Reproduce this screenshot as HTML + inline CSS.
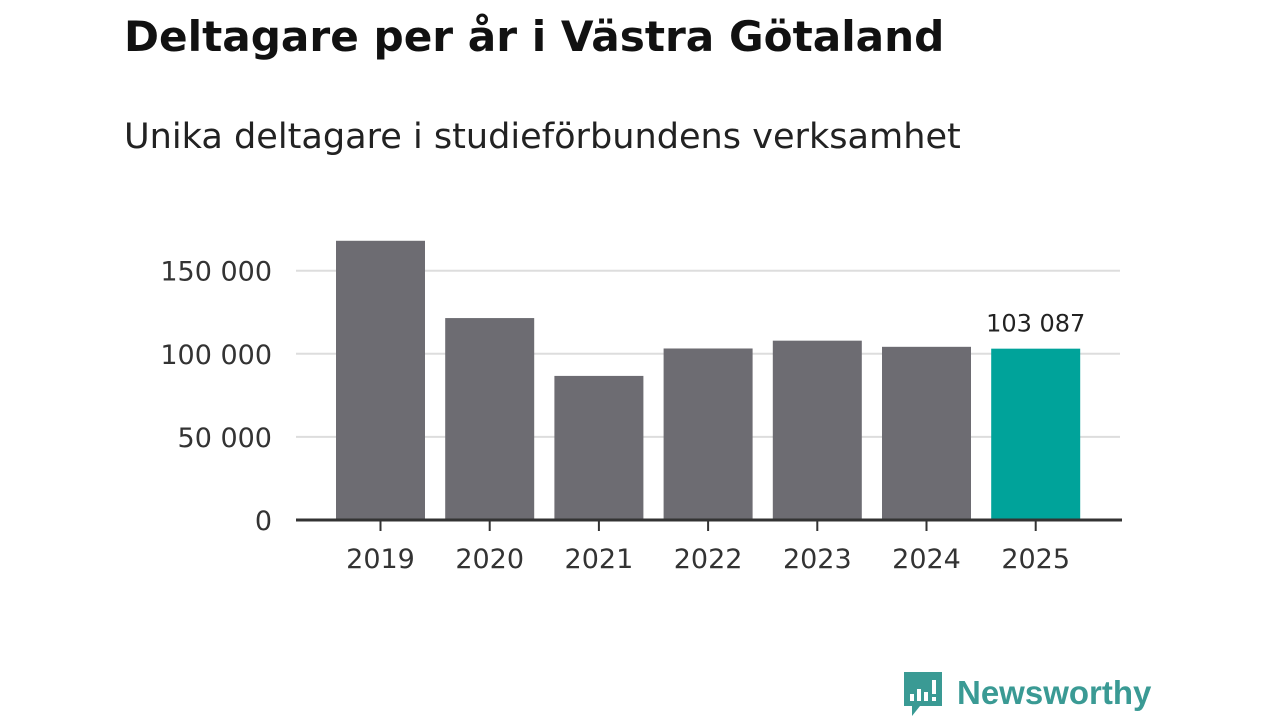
<!DOCTYPE html>
<html><head><meta charset="utf-8"><style>
body{margin:0;width:1280px;height:720px;background:#fff;overflow:hidden;font-family:"DejaVu Sans","Liberation Sans",sans-serif;}
</style></head><body>
<svg width="1280" height="720">
<text x="124" y="51" font-size="42.2" font-weight="bold" fill="#111">Deltagare per år i Västra Götaland</text>
<text x="124" y="148" font-size="35.1" fill="#222">Unika deltagare i studieförbundens verksamhet</text>
<g id="grid"></g><g id="bars"></g><g id="xaxis"></g>
<g>
<path d="M904 672 h38 v34 h-22 l-8 10 v-10 h-8 z" fill="#3a9a94"/>
<rect x="910" y="694" width="4" height="7" fill="#fff"/><rect x="917" y="689" width="4" height="12" fill="#fff"/><rect x="924" y="692" width="4" height="9" fill="#fff"/><rect x="932" y="680" width="4" height="14" fill="#fff"/><rect x="932" y="697" width="4" height="4" fill="#fff"/>
<text x="957" y="704" font-size="33" font-weight="bold" fill="#3a9a94" font-family="Liberation Sans, sans-serif">Newsworthy</text>
</g>
</svg>
<script>
const years=["2019","2020","2021","2022","2023","2024","2025"];
const values=[168000,121500,86700,103200,107900,104200,103087];
const ticks=[0,50000,100000,150000];
const tickLabels=["0","50 000","100 000","150 000"];
const ns="http://www.w3.org/2000/svg";
const y=v=>520-v*0.001662;
const x=i=>336+i*109.2;
function mk(t,a,p){const e=document.createElementNS(ns,t);for(const k in a)e.setAttribute(k,a[k]);p.appendChild(e);return e;}
const g=document.getElementById('grid'),b=document.getElementById('bars'),xa=document.getElementById('xaxis');
ticks.forEach((t,i)=>{
 if(t>0){const l=mk('line',{x1:296,x2:1120,y1:y(t),y2:y(t),stroke:'#ddd','stroke-width':2},g);
 
 }
 const tx=mk('text',{x:272,y:y(t)+10,'text-anchor':'end','font-size':27,fill:'#333'},g);tx.textContent=tickLabels[i];
 
 
});
values.forEach((v,i)=>{
 const r=mk('rect',{x:x(i),y:y(v),width:89,height:520-y(v),fill:i==6?'#00a39a':'#6d6c72'},b);
 
 
 const tk=mk('line',{x1:x(i)+44.5,x2:x(i)+44.5,y1:520,y2:531,stroke:'#333','stroke-width':2},xa);
 
 
 const t=mk('text',{x:x(i)+44.5,y:568,'text-anchor':'middle','font-size':27,fill:'#333'},xa);t.textContent=years[i];
 
 
});
const lbl=mk('text',{x:x(6)+44.5,y:y(values[6])-17,'text-anchor':'middle','font-size':24,fill:'#222'},b);
lbl.textContent=values[6].toString().replace(/\B(?=(\d{3})+$)/g,' ');


const ax=mk('line',{x1:296,x2:1122,y1:520,y2:520,stroke:'#333','stroke-width':3},xa);


</script>
</body></html>
